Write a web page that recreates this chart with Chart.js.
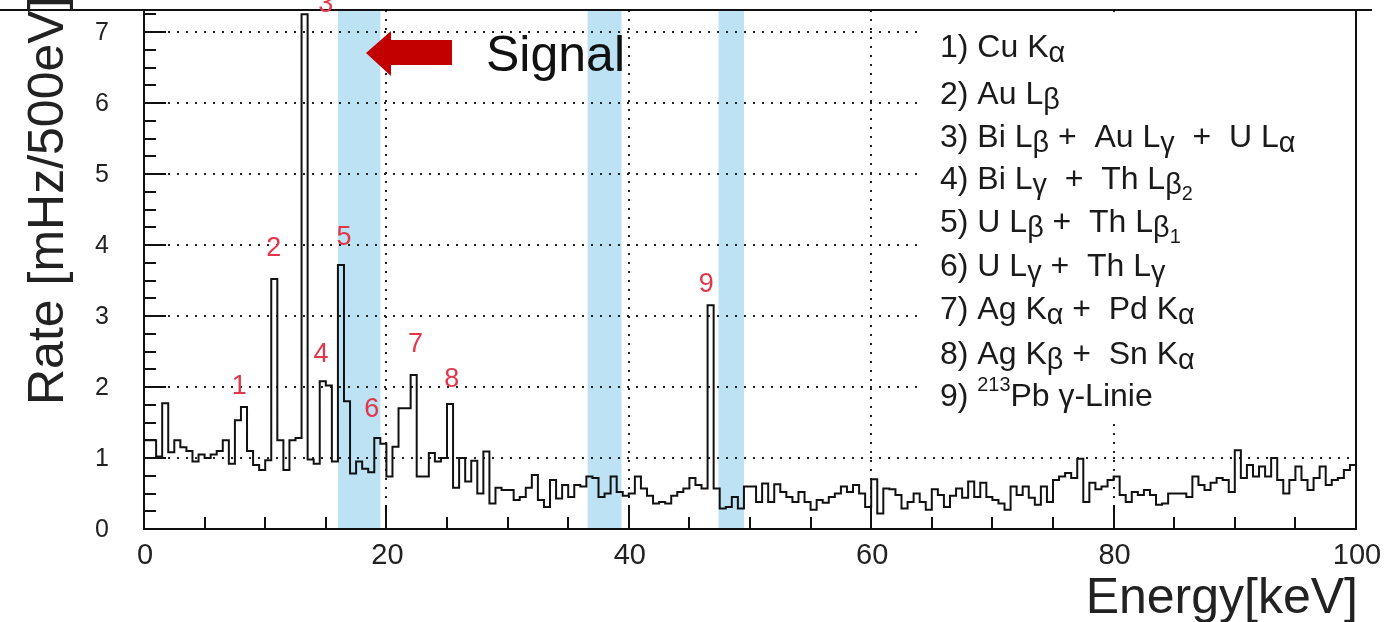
<!DOCTYPE html>
<html>
<head>
<meta charset="utf-8">
<title>Rate vs Energy</title>
<script src="https://cdn.jsdelivr.net/npm/chart.js@4.4.1/dist/chart.umd.min.js"></script>
<style>
  html, body { margin: 0; padding: 0; background: #fff; }
</style>
</head>
<body>
<canvas id="myChart" width="1386" height="622"></canvas>
<script>
// Histogram, 0.5 keV bins from 0 to 100 keV (rate in mHz/500eV)
var binWidth = 0.5;
var rate0to25 = [
    1.25, 1.25, 1.02, 1.77, 1.08, 1.25, 1.15, 1.1, 0.95, 1.05,
    1.0, 1.05, 1.1, 1.25, 0.92, 1.53, 1.72, 1.1, 0.9, 0.83,
    0.97, 3.52, 1.25, 0.83, 1.25, 1.28, 7.25, 0.98, 0.92, 2.08,
    2.02, 0.95, 3.72, 1.8, 0.78, 0.95, 0.85, 0.8, 1.28, 1.2,
    0.74, 1.16, 1.7, 1.7, 2.17, 0.74, 0.74, 1.07, 0.95, 1.0
];
var rate25to50 = [
    1.76, 0.58, 1.0, 0.67, 0.96, 0.5, 1.09, 0.36, 0.58, 0.55,
    0.55, 0.41, 0.45, 0.58, 0.76, 0.41, 0.31, 0.69, 0.43, 0.62,
    0.45, 0.62, 0.6, 0.74, 0.72, 0.45, 0.5, 0.74, 0.52, 0.47,
    0.5, 0.74, 0.57, 0.47, 0.36, 0.38, 0.36, 0.47, 0.52, 0.57,
    0.72, 0.62, 0.57, 3.15, 0.57, 0.29, 0.31, 0.45, 0.29, 0.6
];
var rate50to75 = [
    0.6, 0.38, 0.64, 0.38, 0.63, 0.52, 0.45, 0.38, 0.52, 0.38,
    0.27, 0.41, 0.37, 0.45, 0.5, 0.6, 0.52, 0.62, 0.5, 0.31,
    0.7, 0.22, 0.57, 0.56, 0.48, 0.29, 0.38, 0.5, 0.38, 0.27,
    0.56, 0.48, 0.31, 0.47, 0.57, 0.44, 0.67, 0.45, 0.65, 0.45,
    0.41, 0.36, 0.27, 0.6, 0.48, 0.6, 0.44, 0.34, 0.6, 0.38
];
var rate75to100 = [
    0.69, 0.74, 0.79, 0.72, 0.99, 0.38, 0.65, 0.56, 0.6, 0.69,
    0.74, 0.48, 0.38, 0.52, 0.48, 0.55, 0.48, 0.34, 0.36, 0.5,
    0.5, 0.5, 0.45, 0.74, 0.62, 0.55, 0.65, 0.72, 0.69, 0.52,
    1.11, 0.72, 0.9, 0.74, 0.88, 0.74, 1.0, 0.69, 0.5, 0.69,
    0.88, 0.69, 0.55, 0.72, 0.88, 0.62, 0.69, 0.72, 0.83, 0.9
];

// axis ticks
var xTickLabels = [0, 20, 40, 60, 80, 100];
var yTickLabels = [0, 1, 2, 3, 4, 5, 6, 7];

// signal windows (keV)
var bandStart = [16.0, 36.6, 47.4];
var bandEnd = [19.5, 39.4, 49.5];

// peak numbers (keV, rate)
var peakText = ['1', '2', '3', '4', '5', '6', '7', '8', '9'];
var peakX = [7.85, 10.7, 15.0, 14.6, 16.5, 18.8, 22.4, 25.4, 46.4];
var peakY = [2.0, 3.95, 7.38, 2.46, 4.1, 1.68, 2.6, 2.1, 3.45];

// legend lines, g = greek (lowered), s = subscript, p = superscript
var legendLines = [
    [['1) Cu K'], ['α', 'g']],
    [['2) Au L'], ['β', 'g']],
    [['3) Bi L'], ['β', 'g'], [' +  Au L'], ['γ', 'g'], ['  +  U L'], ['α', 'g']],
    [['4) Bi L'], ['γ', 'g'], ['  +  Th L'], ['β', 'g'], ['2', 's']],
    [['5) U L'], ['β', 'g'], [' +  Th L'], ['β', 'g'], ['1', 's']],
    [['6) U L'], ['γ', 'g'], [' +  Th L'], ['γ', 'g']],
    [['7) Ag K'], ['α', 'g'], [' +  Pd K'], ['α', 'g']],
    [['8) Ag K'], ['β', 'g'], [' +  Sn K'], ['α', 'g']],
    [['9) '], ['213', 'p'], ['Pb γ-Linie']]
];

var allRates = rate0to25.concat(rate25to50, rate50to75, rate75to100);
var points = [];
for (var i = 0; i < allRates.length; i++) {
    points.push({ x: i * binWidth, y: allRates[i] });
}
// close the last bin
points.push({ x: allRates.length * binWidth, y: allRates[allRates.length - 1] });

var FONT = '"Liberation Sans", Arial, sans-serif';

function drawRich(ctx, parts, x, y, size) {
    var cx = x;
    for (var i = 0; i < parts.length; i++) {
        var p = parts[i];
        var s = size, dy = 0;
        if (p[1] === 'g') { s = size * 0.9; dy = 6; }
        if (p[1] === 's') { s = size * 0.62; dy = 15; }
        if (p[1] === 'p') { s = size * 0.62; dy = -11; }
        ctx.font = s + 'px ' + FONT;
        ctx.fillText(p[0], cx, y + dy);
        cx += ctx.measureText(p[0]).width;
    }
}

function dotted(ctx, x1, y1, x2, y2) {
    ctx.beginPath();
    ctx.moveTo(x1, y1);
    ctx.lineTo(x2, y2);
    ctx.stroke();
}

var histPlugin = {
    id: 'histPlugin',
    beforeDatasetsDraw: function(chart) {
        var ctx = chart.ctx;
        var a = chart.chartArea;
        var xs = chart.scales.x;
        var ys = chart.scales.y;
        ctx.save();
        // blue bands
        ctx.fillStyle = '#bde2f4';
        for (var i = 0; i < bandStart.length; i++) {
            var x1 = xs.getPixelForValue(bandStart[i]);
            var x2 = xs.getPixelForValue(bandEnd[i]);
            ctx.fillRect(x1, a.top, x2 - x1, a.bottom - a.top);
        }
        // dotted grid
        ctx.strokeStyle = '#222';
        ctx.lineWidth = 2;
        ctx.setLineDash([2, 7]);
        for (var v = 1; v <= 7; v++) {
            var py = Math.round(ys.getPixelForValue(v));
            dotted(ctx, a.left + 24, py, a.right, py);
        }
        for (var k = 20; k < 100; k += 20) {
            var px = Math.round(xs.getPixelForValue(k));
            dotted(ctx, px, a.top, px, a.bottom - 26);
        }
        ctx.setLineDash([]);
        // legend box
        ctx.fillStyle = '#fff';
        ctx.fillRect(918, a.top + 4, a.right - 4 - 918, 418 - a.top - 4);
        ctx.restore();
    },
    afterDatasetsDraw: function(chart) {
        var ctx = chart.ctx;
        var a = chart.chartArea;
        var xs = chart.scales.x;
        var ys = chart.scales.y;
        ctx.save();
        // frame
        ctx.strokeStyle = '#111';
        ctx.lineWidth = 2;
        ctx.beginPath();
        ctx.moveTo(0, a.top);
        ctx.lineTo(1372, a.top);
        ctx.moveTo(a.left, a.top);
        ctx.lineTo(a.left, a.bottom);
        ctx.lineTo(a.right, a.bottom);
        ctx.lineTo(a.right, a.top);
        ctx.stroke();
        // y ticks
        ctx.beginPath();
        for (var t = 0; t <= 7.25; t += 0.25) {
            var py = Math.round(ys.getPixelForValue(t));
            var len = (t % 1 === 0) ? 22 : 12;
            ctx.moveTo(a.left, py);
            ctx.lineTo(a.left + len, py);
        }
        // x ticks
        for (var e = 5; e < 100; e += 5) {
            var px = Math.round(xs.getPixelForValue(e));
            var l2 = (e % 20 === 0) ? 24 : 12;
            ctx.moveTo(px, a.bottom);
            ctx.lineTo(px, a.bottom - l2);
        }
        ctx.stroke();

        // tick labels
        ctx.fillStyle = '#222';
        ctx.font = '25px ' + FONT;
        ctx.textAlign = 'right';
        ctx.textBaseline = 'middle';
        for (var i = 0; i < yTickLabels.length; i++) {
            ctx.fillText(String(yTickLabels[i]), 109, ys.getPixelForValue(yTickLabels[i]) + 1);
        }
        ctx.font = '29px ' + FONT;
        ctx.textAlign = 'center';
        for (var j = 0; j < xTickLabels.length; j++) {
            ctx.fillText(String(xTickLabels[j]), xs.getPixelForValue(xTickLabels[j]) + 1, 556);
        }

        // axis titles
        ctx.font = '50px ' + FONT;
        ctx.textAlign = 'right';
        ctx.textBaseline = 'alphabetic';
        ctx.fillText('Energy[keV]', 1358, 613);
        ctx.save();
        ctx.translate(63, 405);
        ctx.rotate(-Math.PI / 2);
        ctx.textAlign = 'left';
        ctx.fillText('Rate [mHz/500eV]', 0, 0);
        ctx.restore();

        // peak numbers
        ctx.fillStyle = '#e2364a';
        ctx.font = '27px ' + FONT;
        ctx.textAlign = 'center';
        ctx.textBaseline = 'middle';
        for (var p = 0; p < peakText.length; p++) {
            ctx.fillText(peakText[p], xs.getPixelForValue(peakX[p]), ys.getPixelForValue(peakY[p]));
        }

        // legend text
        ctx.fillStyle = '#1a1a1a';
        ctx.textAlign = 'left';
        ctx.textBaseline = 'middle';
        var rowY = [48, 95, 138, 180, 223, 267, 310, 355, 397];
        for (var r = 0; r < legendLines.length; r++) {
            drawRich(ctx, legendLines[r], 940, rowY[r], 32);
        }

        // signal arrow and text
        ctx.fillStyle = '#c20000';
        ctx.beginPath();
        ctx.moveTo(366, 53);
        ctx.lineTo(391, 31);
        ctx.lineTo(391, 40);
        ctx.lineTo(452, 40);
        ctx.lineTo(452, 65);
        ctx.lineTo(391, 65);
        ctx.lineTo(391, 76);
        ctx.closePath();
        ctx.fill();
        ctx.fillStyle = '#111';
        ctx.font = '50px ' + FONT;
        ctx.textAlign = 'left';
        ctx.textBaseline = 'alphabetic';
        ctx.fillText('Signal', 486, 71);
        ctx.restore();
    }
};

var ctx = document.getElementById('myChart').getContext('2d');
var myChart = new Chart(ctx, {
    type: 'line',
    data: {
        datasets: [{
            label: 'Rate',
            data: points,
            stepped: 'before',
            borderColor: '#111',
            borderWidth: 2,
            pointRadius: 0,
            fill: false
        }]
    },
    options: {
        responsive: false,
        animation: false,
        devicePixelRatio: 1,
        layout: { padding: { left: 144, right: 30, top: 10, bottom: 93 } },
        plugins: {
            legend: { display: false },
            tooltip: { enabled: false }
        },
        scales: {
            x: { type: 'linear', min: 0, max: 100, display: false },
            y: { min: 0, max: 7.31, display: false }
        }
    },
    plugins: [histPlugin]
});
</script>
</body>
</html>
